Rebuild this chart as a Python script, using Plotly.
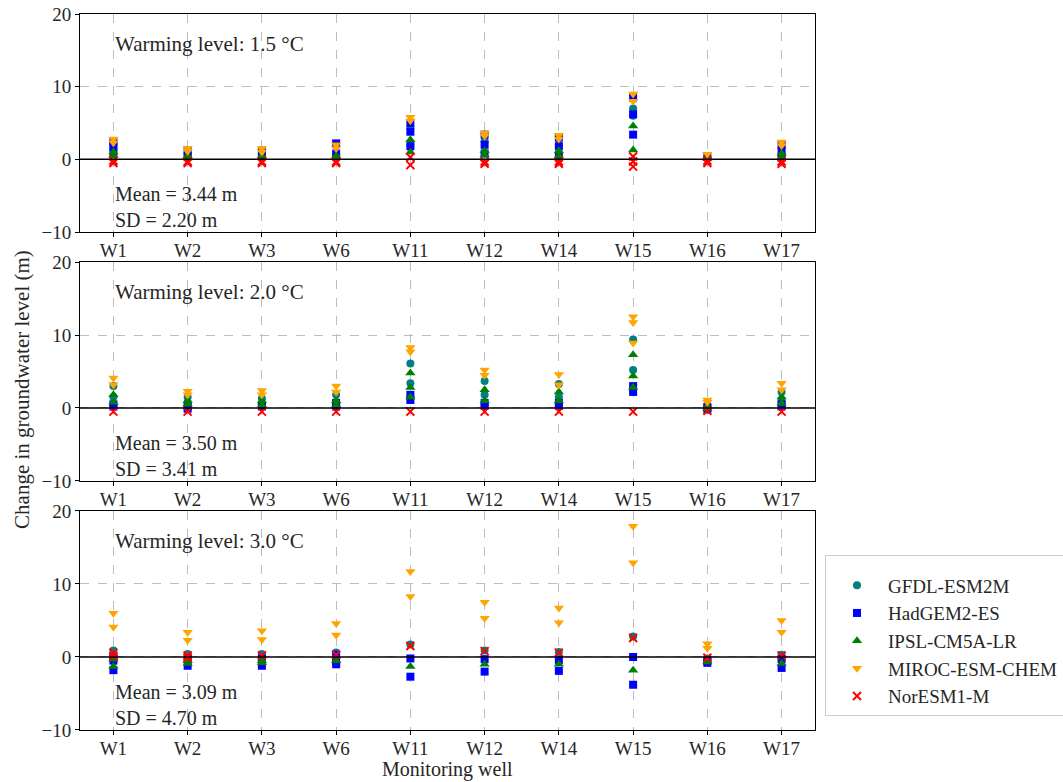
import plotly.graph_objects as go

wells = ["W1", "W2", "W3", "W6", "W11", "W12", "W14", "W15", "W16", "W17"]
models = ["GFDL-ESM2M", "HadGEM2-ES", "IPSL-CM5A-LR", "MIROC-ESM-CHEM", "NorESM1-M"]
levels = ["1.5", "2.0", "3.0"]
means = ["3.44", "3.50", "3.09"]
sds = ["2.20", "3.41", "4.70"]

# Warming level 1.5 C : values per well (several runs per model)
gfdl_15 = [[1.5, 2.0], [0.6], [0.3], [0.6], [4.3, 2.0], [2.5], [2.0], [7.0, 6.0], [0.2], [0.6]]
had_15 = [[2.5, 1.8, 0.8], [1.2, 0.5], [1.2, 0.5], [2.2, 0.8], [5.0, 3.8, 1.8], [3.4, 2.0, 0.8], [3.0, 1.8, 0.5], [8.5, 6.2, 3.4], [0.3], [2.0, 1.2, 0.3]]
ipsl_15 = [[1.0, 0.5], [0.5, 0.2], [0.5], [0.5], [2.7, 1.0], [1.2, 0.6], [1.2, 0.5], [4.6, 1.3], [0.1], [0.8, 0.3]]
miroc_15 = [[2.8, 2.3], [1.5, 1.1], [1.5, 1.0], [2.0, 1.5], [5.8, 5.3], [3.6, 3.2], [3.3, 2.8], [9.0, 8.0], [0.7], [2.4, 1.9]]
nor_15 = [[-0.2, -0.5], [-0.3, -0.5], [-0.3, -0.5], [-0.3, -0.5], [0.3, -0.8], [-0.3, -0.6], [-0.3, -0.6], [0.4, -0.3, -1.0], [-0.2, -0.5], [-0.3, -0.6]]

# Warming level 2.0 C
gfdl_20 = [[3.0, 1.5], [1.5, 0.8], [1.3, 0.5], [1.8, 0.8], [6.1, 3.4], [3.7, 1.8], [3.3, 1.5], [9.4, 5.2], [0.4], [2.2, 1.0]]
had_20 = [[0.5, 0.2], [0.2, -0.1], [0.2], [0.7, 0.2], [1.8, 1.1], [0.7, 0.3], [0.7, 0.3], [3.0, 2.2], [0.1, -0.2], [0.5, 0.2]]
ipsl_20 = [[1.8, 0.8], [1.0, 0.5], [1.0, 0.4], [1.0, 0.4], [4.8, 2.8, 1.5], [2.5, 1.0], [2.2, 1.0], [7.3, 4.4, 2.8], [0.2, -0.1], [1.5, 0.6]]
miroc_20 = [[4.1, 3.2], [2.3, 1.8], [2.4, 1.8], [3.0, 2.2], [8.3, 7.7], [5.2, 4.5], [4.6, 3.2], [12.5, 11.7, 8.9], [1.1, 0.8], [3.4, 2.5]]
nor_20 = [[-0.5], [-0.5], [-0.5], [-0.5], [-0.5], [-0.5], [-0.5], [-0.5], [-0.4], [-0.5]]

# Warming level 3.0 C
gfdl_30 = [[0.9, 0.3], [0.4], [0.4], [0.6], [1.7], [0.9], [0.7], [2.8], [-0.2], [0.3]]
had_30 = [[0.0, -0.5, -1.8], [-0.2, -1.2], [-0.2, -1.2], [0.3, -0.6, -1.0], [-0.2, -2.7], [-0.3, -2.0], [-0.4, -1.9], [0.0, -3.8], [-0.5, -0.8], [-0.3, -1.5]]
ipsl_30 = [[-0.3, -1.3], [-0.5, -0.9], [-0.5, -0.8], [-0.5], [-1.3], [-1.0], [-1.0], [-1.8], [-0.7], [-0.9]]
miroc_30 = [[6.0, 4.1], [3.4, 2.3], [3.6, 2.4], [4.6, 3.0], [11.7, 8.3], [7.5, 5.3], [6.7, 4.7], [17.9, 12.9], [1.8, 1.2], [5.0, 3.4]]
nor_30 = [[0.6, 0.1], [0.2, -0.1], [0.2], [0.3], [1.5], [0.8], [0.6], [2.6], [-0.1], [0.2]]

panel_data = [
    [gfdl_15, had_15, ipsl_15, miroc_15, nor_15],
    [gfdl_20, had_20, ipsl_20, miroc_20, nor_20],
    [gfdl_30, had_30, ipsl_30, miroc_30, nor_30],
]

colors = ["#008080", "#0000ff", "#008000", "#ffa500", "#ff0000"]
symbols = ["circle", "square", "triangle-up", "triangle-down", "x-thin"]
sizes = [8, 8, 9, 9, 8]

FONT = "Liberation Serif"
TXT = "#262626"
fig = go.Figure()

domains = [[0.6955, 1.0], [0.3478, 0.6536], [0.0, 0.3059]]

for p in range(3):
    ax = "" if p == 0 else str(p + 1)
    for m in range(5):
        xs, ys = [], []
        for w, vals in zip(wells, panel_data[p][m]):
            for v in vals:
                xs.append(w)
                ys.append(v)
        marker = dict(color=colors[m], symbol=symbols[m], size=sizes[m])
        if symbols[m] == "x-thin":
            marker["line"] = dict(color=colors[m], width=2)
        else:
            marker["line"] = dict(width=0)
        fig.add_trace(go.Scatter(
            x=xs, y=ys, mode="markers", name=models[m], marker=marker,
            legendgroup=models[m], showlegend=(p == 0),
            xaxis="x" + ax, yaxis="y" + ax,
        ))

    axis_common = dict(showline=True, linecolor="black", linewidth=1, mirror=True,
                       ticks="outside", ticklen=4, tickcolor="black", automargin=False,
                       showgrid=True, gridcolor="#bdbdbd", griddash="dash", gridwidth=1,
                       zeroline=False, tickfont=dict(family=FONT, size=19, color=TXT))
    fig.update_layout(**{
        "xaxis" + ax: dict(axis_common, type="category", categoryorder="array",
                           categoryarray=wells, range=[-0.45, 9.45],
                           ticklabelstandoff=-3,
                           anchor="y" + ax, domain=[0, 1]),
        "yaxis" + ax: dict(axis_common, range=[-10, 20], tickvals=[-10, 0, 10, 20],
                           ticktext=["\u221210", "0", "10", "20"],
                           anchor="x" + ax, domain=domains[p]),
    })
    fig.add_shape(type="line", xref="x" + ax + " domain", yref="y" + ax,
                  x0=0, x1=1, y0=0, y1=0, line=dict(color="black", width=1.5), layer="above")
    fig.add_annotation(xref="x" + ax + " domain", yref="y" + ax + " domain",
                       x=0.045, y=0.862, xanchor="left", yanchor="middle", showarrow=False,
                       text="Warming level: " + levels[p] + " \u00b0C",
                       font=dict(family=FONT, size=21, color=TXT))
    fig.add_annotation(xref="x" + ax + " domain", yref="y" + ax + " domain",
                       x=0.045, y=0.115, xanchor="left", yanchor="middle", showarrow=False,
                       align="left",
                       text="Mean = " + means[p] + " m<br>SD = " + sds[p] + " m",
                       font=dict(family=FONT, size=20, color=TXT))

fig.add_annotation(xref="paper", yref="paper", x=-0.0789, y=0.475, textangle=-90,
                   xanchor="center", yanchor="middle", showarrow=False,
                   text="Change in groundwater level (m)",
                   font=dict(family=FONT, size=21, color=TXT))
fig.add_annotation(xref="paper", yref="paper", x=0.5, y=-0.0545,
                   xanchor="center", yanchor="middle", showarrow=False,
                   text="Monitoring well", font=dict(family=FONT, size=20, color=TXT))

fig.update_layout(
    width=1063, height=782,
    margin=dict(l=80, r=248, t=14, b=52, autoexpand=False),
    plot_bgcolor="white", paper_bgcolor="white",
    font=dict(family=FONT, size=19, color=TXT),
    legend=dict(x=1.0136, y=0.2444, xanchor="left", yanchor="top",
                bordercolor="#cccccc", borderwidth=1, bgcolor="white",
                font=dict(family=FONT, size=19, color=TXT),
                title=dict(text=" ", font=dict(size=8)),
                itemwidth=52, tracegroupgap=0),
)

fig.write_html("out.html")
